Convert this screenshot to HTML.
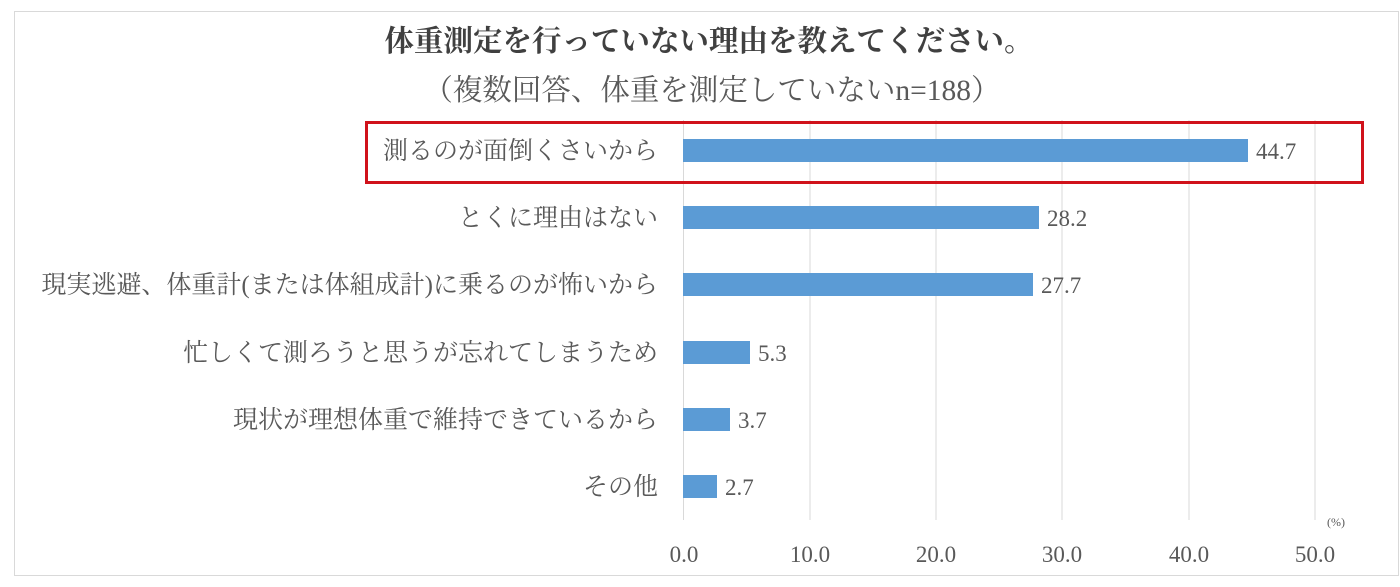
<!DOCTYPE html>
<html><head><meta charset="utf-8"><style>
body{margin:0;background:#fff;}
svg text{font-family:"Liberation Serif","Noto Serif CJK JP",serif;fill:#595959;}
</style></head><body>
<svg width="1400" height="582" xmlns="http://www.w3.org/2000/svg">
<rect x="14.5" y="11.5" width="1384" height="564" fill="#fff" stroke="#d9d9d9"/>
<text x="709" y="51" font-size="29.5" font-weight="bold" text-anchor="middle" style="fill:#404040">体重測定を行っていない理由を教えてください。</text>
<text x="712" y="100" font-size="29.5" text-anchor="middle">（複数回答、体重を測定していないn=188）</text>
<g stroke="#d9d9d9" stroke-width="1">
<line x1="683.5" y1="120" x2="683.5" y2="520"/>
<line x1="810" y1="120" x2="810" y2="520"/>
<line x1="936" y1="120" x2="936" y2="520"/>
<line x1="1062" y1="120" x2="1062" y2="520"/>
<line x1="1189" y1="120" x2="1189" y2="520"/>
<line x1="1315" y1="120" x2="1315" y2="520"/>
</g>
<g fill="#5b9bd5">
<rect x="683" y="139" width="565" height="23"/>
<rect x="683" y="206" width="356" height="23"/>
<rect x="683" y="273" width="350" height="23"/>
<rect x="683" y="341" width="67" height="23"/>
<rect x="683" y="408" width="47" height="23"/>
<rect x="683" y="475" width="34" height="23"/>
</g>
<g font-size="23">
<text x="1256" y="159">44.7</text>
<text x="1047" y="226">28.2</text>
<text x="1041" y="293">27.7</text>
<text x="758" y="361">5.3</text>
<text x="738" y="428">3.7</text>
<text x="725" y="495">2.7</text>
</g>
<g font-size="25" text-anchor="end">
<text x="658" y="159">測るのが面倒くさいから</text>
<text x="658" y="226">とくに理由はない</text>
<text x="658" y="293">現実逃避、体重計(または体組成計)に乗るのが怖いから</text>
<text x="658" y="361">忙しくて測ろうと思うが忘れてしまうため</text>
<text x="658" y="428">現状が理想体重で維持できているから</text>
<text x="658" y="495">その他</text>
</g>
<g font-size="23" text-anchor="middle">
<text x="684" y="562">0.0</text>
<text x="810" y="562">10.0</text>
<text x="936" y="562">20.0</text>
<text x="1062" y="562">30.0</text>
<text x="1189" y="562">40.0</text>
<text x="1315" y="562">50.0</text>
</g>
<text x="1336" y="526" font-size="12" text-anchor="middle">(%)</text>
<rect x="366.5" y="122.5" width="996" height="60" fill="none" stroke="#d0121b" stroke-width="3"/>
</svg>
</body></html>
